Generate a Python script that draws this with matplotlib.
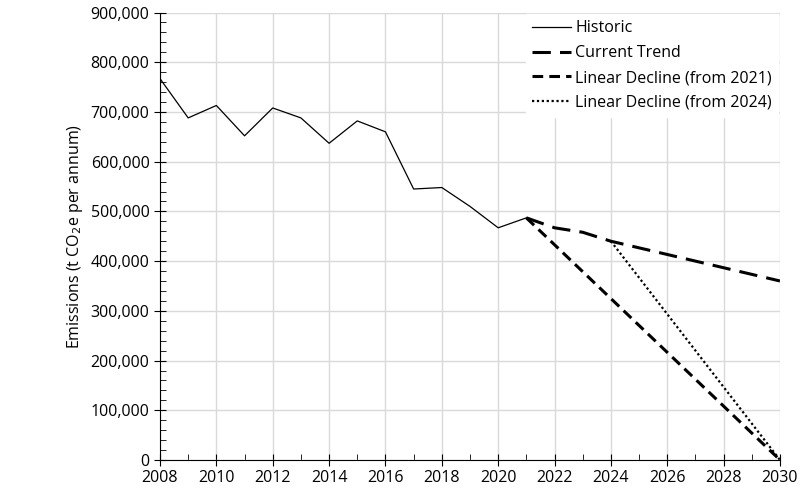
import matplotlib
matplotlib.use("Agg")
import matplotlib.pyplot as plt
from matplotlib.ticker import FuncFormatter, MultipleLocator

years_hist = list(range(2008, 2022))
hist = [767000, 688000, 713000, 652000, 708000, 688000, 637000, 682000, 660000,
        545000, 548000, 510000, 467000, 487000]
years_trend = [2021, 2022, 2023, 2024, 2030]
trend = [487000, 467000, 458000, 440000, 360000]
years_lin21 = [2021, 2030]
lin21 = [487000, 0]
years_lin24 = [2024, 2030]
lin24 = [440000, 0]

plt.rcParams['font.family'] = ['Open Sans', 'DejaVu Sans']
fig, ax = plt.subplots(figsize=(8, 5), dpi=100)
fig.subplots_adjust(left=0.2, right=0.975, top=0.975, bottom=0.08)

ax.plot(years_hist, hist, color='black', lw=0.9, label='Historic')
ax.plot(years_trend, trend, color='black', lw=2.2, dashes=(6, 3), label='Current Trend')
ax.plot(years_lin21, lin21, color='black', lw=2.2, dashes=(3.5, 2), label='Linear Decline (from 2021)')
ax.plot(years_lin24, lin24, color='black', lw=1.6, dashes=(1, 1.2), label='Linear Decline (from 2024)')

ax.set_xlim(2008, 2030)
ax.set_ylim(0, 900000)
ax.xaxis.set_major_locator(MultipleLocator(2))
ax.xaxis.set_minor_locator(MultipleLocator(1))
ax.yaxis.set_major_locator(MultipleLocator(100000))
ax.yaxis.set_minor_locator(MultipleLocator(20000))
ax.yaxis.set_major_formatter(FuncFormatter(lambda v, p: f"{int(v):,}"))
ax.grid(True, which='major', color='#d9d9d9', lw=1)
ax.set_axisbelow(True)
for s in ['top', 'right']:
    ax.spines[s].set_visible(False)
ax.tick_params(which='major', direction='inout', length=8, labelsize=11.5)
ax.tick_params(which='minor', direction='in', length=4)
ax.set_ylabel('Emissions (t CO$_2$e per annum)', fontsize=11.5)
leg = ax.legend(loc='upper right', frameon=True, fontsize=11.5, handlelength=2.4,
                handletextpad=0.3, labelspacing=0.55,
                fancybox=False, edgecolor='white', framealpha=1, borderaxespad=0.1)
fig.savefig('out.png')
